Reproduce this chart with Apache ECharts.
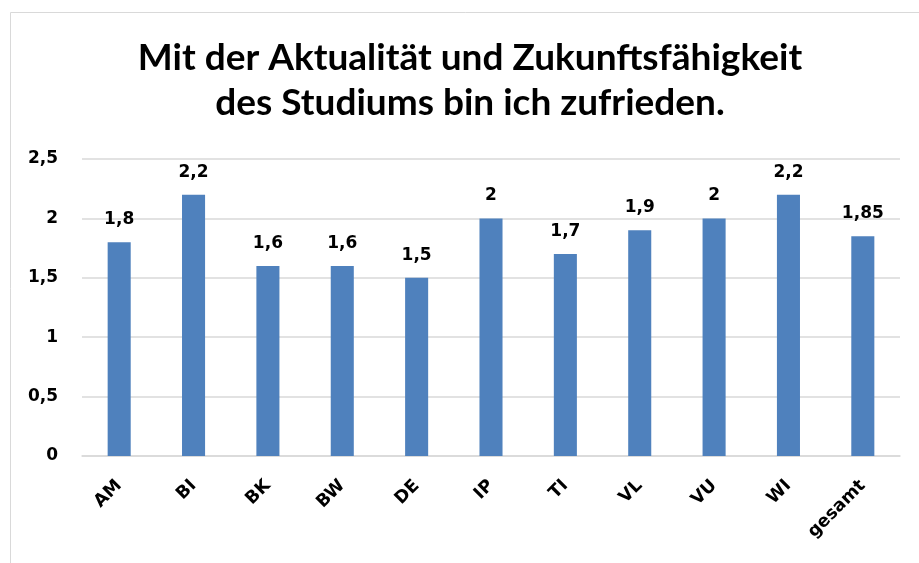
<!DOCTYPE html>
<html><head><meta charset="utf-8">
<script src="https://cdn.jsdelivr.net/npm/echarts@6/dist/echarts.min.js"></script>
<style>html,body{margin:0;padding:0;background:#fff}#c{width:919px;height:563px}</style>
</head><body><div id="c"></div>
<script>
const categories = ['AM','BI','BK','BW','DE','IP','TI','VL','VU','WI','gesamt'];
const values = [1.8, 2.2, 1.6, 1.6, 1.5, 2, 1.7, 1.9, 2, 2.2, 1.85];
const titleText = 'Mit der Aktualität und Zukunftsfähigkeit\ndes Studiums bin ich zufrieden.';
const fmt = v => String(v).replace('.', ',');
const titleFont = 'Lato, Calibri, "Liberation Sans", sans-serif';
const font = '"DejaVu Sans", Verdana, sans-serif';
const chart = echarts.init(document.getElementById('c'), null, {renderer:'canvas'});
chart.setOption({
  animation: false,
  graphic: [{type:'rect', shape:{x:10.5, y:12.5, width:1000, height:700}, style:{fill:'none', stroke:'#d9d9d9', lineWidth:1}, silent:true}],
  title: {text: titleText, left: 465, textAlign: 'center', top: 31,
    textStyle: {fontFamily: titleFont, fontWeight: 'bold', fontSize: 37, lineHeight: 45, color: '#000'}},
  grid: {left: 82, right: 19, top: 159, bottom: 107, containLabel: false},
  xAxis: {type: 'category', data: categories,
    axisLine: {lineStyle: {color: '#d9d9d9', width: 1.5}}, axisTick: {show: false},
    axisLabel: {rotate: 45, margin: 27, fontFamily: font, fontWeight: 'bold', fontSize: 17.5, color: '#000', interval: 0}},
  yAxis: {type: 'value', min: 0, max: 2.5, interval: 0.5,
    axisLine: {show: false}, axisTick: {show: false},
    splitLine: {lineStyle: {color: '#d9d9d9', width: 1.5}},
    axisLabel: {margin: 24, fontFamily: font, fontWeight: 'bold', fontSize: 17, color: '#000', formatter: v => fmt(v)}},
  series: [{type: 'bar', data: values, barWidth: '31%',
    itemStyle: {color: '#4F81BD'},
    label: {show: true, position: 'top', distance: 14, fontFamily: font, fontWeight: 'bold', fontSize: 17, color: '#000',
      formatter: p => fmt(p.value)}}]
});
</script></body></html>
